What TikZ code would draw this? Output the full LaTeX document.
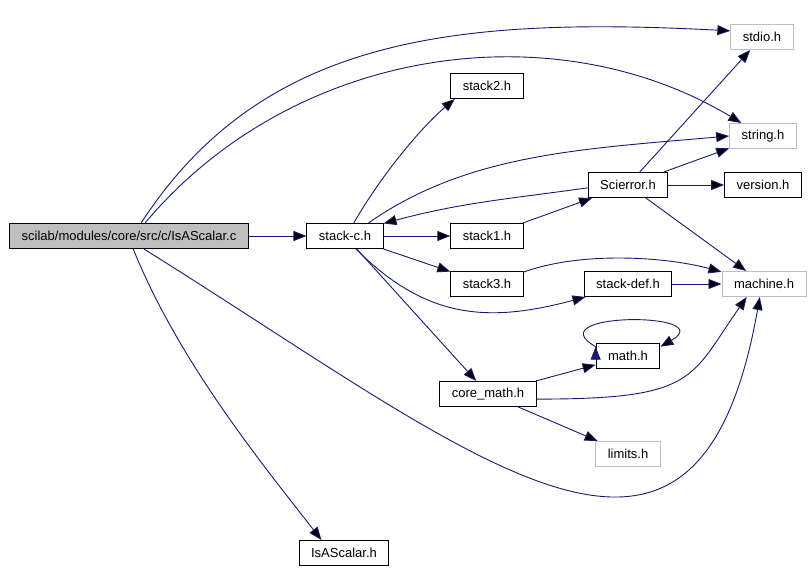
\documentclass[tikz,border=0pt]{standalone}
\usepackage{fontspec}
\setmainfont{Liberation Sans}
\usetikzlibrary{arrows.meta}
\definecolor{edgeblue}{RGB}{25,25,112}
\definecolor{boxgray}{RGB}{191,191,191}

\begin{document}
\begin{tikzpicture}[x=1pt, y=-1pt,
        hdr/.style = {draw, line width=1pt, inner xsep=12pt, minimum height=25pt, font=\fontsize{13}{15}\selectfont},
        sys/.style = {hdr, draw=boxgray},
        root/.style = {hdr, fill=boxgray} ]
        \useasboundingbox (0,0) rectangle (810,569);

        \node at (129, 236) [root] (src) {scilab/modules/core/src/c/IsAScalar.c};
        \node at (345, 236) [hdr] (stackc) {stack-c.h};
        \node at (487, 86) [hdr] (stack2) {stack2.h};
        \node at (487, 236) [hdr] (stack1) {stack1.h};
        \node at (487, 284) [hdr] (stack3) {stack3.h};
        \node at (488, 394) [hdr] (coremath) {core\_math.h};
        \node at (628, 185) [hdr] (scierror) {Scierror.h};
        \node at (628, 284) [hdr] (stackdef) {stack-def.h};
        \node at (628, 356) [hdr] (math) {math.h};
        \node at (628, 454) [sys] (limits) {limits.h};
        \node at (762, 37) [sys] (stdio) {stdio.h};
        \node at (763, 136) [sys] (string) {string.h};
        \node at (763, 185) [hdr] (version) {version.h};
        \node at (764, 284) [sys] (machine) {machine.h};
        \node at (344, 553) [hdr] (isa) {IsAScalar.h};

        \path[-{Triangle[length=13pt,width=10pt]}, draw=edgeblue, line width=0.9pt]
        (src) edge (stackc)
        (src.47) edge [out=57, in=177, out distance=220pt, in distance=280pt] (stdio.169)
        (src.39) edge [out=50, in=149, out distance=230pt, in distance=220pt] (string.149)
        (src.-41) edge [out=-32, in=-100, out distance=400pt, in distance=360pt] (machine.-108)
        (src.-72) edge [out=-68, in=128, out distance=120pt, in distance=100pt] (isa.150)
        (stackc) edge (stack1)
        (stackc) edge (stack3)
        (stackc) edge (coremath)
        (stackc.56) edge [out=60, in=-140, out distance=60pt, in distance=40pt] (stack2.202)
        (stackc.29) edge [out=35, in=185, out distance=120pt, in distance=150pt] (string.west)
        (stackc.-50) edge [out=-45, in=195, out distance=100pt, in distance=100pt] (stackdef.197)
        (scierror.184) edge [out=188, in=15] (stackc.18)
        (stack1) edge (scierror)
        (scierror) edge (stdio)
        (scierror) edge (string)
        (scierror) edge (version)
        (scierror) edge (machine)
        (stack3.18) edge [out=20, in=165, out distance=60pt, in distance=60pt] (machine.164)
        (stackdef) edge (machine)
        (coremath) edge (math)
        (coremath.-6) edge [out=0, in=-125, out distance=160pt, in distance=100pt] (machine.-143)
        (coremath) edge (limits)
        (math.164) edge [out=150, in=30, out distance=70pt, in distance=70pt] (math.16);
\end{tikzpicture}
\end{document}
